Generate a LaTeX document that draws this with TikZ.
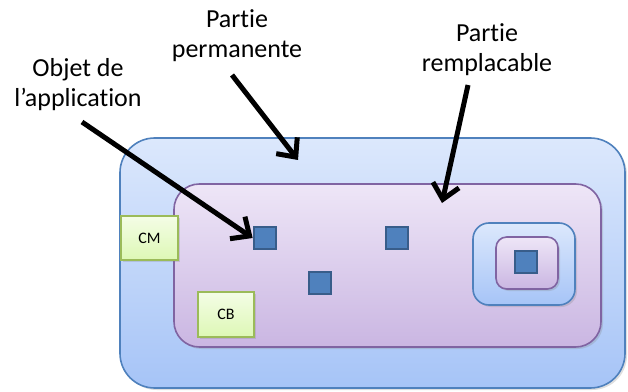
\documentclass[tikz,border=0pt]{standalone}
\usepackage{fontspec}
\setmainfont{Carlito}[Ligatures={NoCommon}]
\usetikzlibrary{arrows.meta,shadows}
\definecolor{blueedge}{HTML}{4F81BD}
\definecolor{bluetop}{HTML}{DCE8FC}
\definecolor{bluebot}{HTML}{A6C4F7}
\definecolor{purpedge}{HTML}{8064A2}
\definecolor{purptop}{HTML}{EEE6F7}
\definecolor{purpbot}{HTML}{CAB6E2}
\definecolor{greenedge}{HTML}{9BBB59}
\definecolor{greentop}{HTML}{F4FDE6}
\definecolor{greenbot}{HTML}{DDF8B5}
\definecolor{sqfill}{HTML}{4F81BD}
\definecolor{sqedge}{HTML}{385D8A}
\tikzset{
  bluebox/.style={draw=blueedge, line width=1.2pt, top color=bluetop, bottom color=bluebot, inner sep=0pt,
    drop shadow={shadow xshift=1.5pt, shadow yshift=-1.5pt, opacity=0.25}},
  purpbox/.style={draw=purpedge, line width=1.2pt, top color=purptop, bottom color=purpbot, inner sep=0pt,
    drop shadow={shadow xshift=1.5pt, shadow yshift=-1.5pt, opacity=0.25}},
  greenbox/.style={draw=greenedge, line width=1.5pt, top color=greentop, bottom color=greenbot, inner sep=0pt,
    font=\fontsize{12}{14}\selectfont,
    drop shadow={shadow xshift=1.5pt, shadow yshift=-1.5pt, opacity=0.25}},
  sq/.style={draw=sqedge, line width=1.5pt, fill=sqfill, minimum width=17pt, minimum height=17pt, inner sep=0pt},
  lbl/.style={align=center, font=\fontsize{19.5}{22.5}\selectfont},
  pointer/.style={line width=3.75pt, -{Straight Barb[length=11pt,width=20pt]}}
}
\begin{document}
\begin{tikzpicture}[x=0.75pt,y=-0.75pt]
\useasboundingbox (0,0) rectangle (628,392);
% outer permanent part
\node[bluebox, rounded corners=26pt, minimum width=505*0.75pt, minimum height=250*0.75pt] (perm) at (372.5,263) {};
% replaceable part
\node[purpbox, rounded corners=19pt, minimum width=427*0.75pt, minimum height=163*0.75pt] (repl) at (387.5,265.5) {};
% CM and CB
\node[greenbox, minimum width=57*0.75pt, minimum height=44*0.75pt] (cm) at (149.5,238) {CM};
\node[greenbox, minimum width=56*0.75pt, minimum height=45*0.75pt] (cb) at (226,314.5) {CB};
% objects
\node[sq] (o1) at (265,238) {};
\node[sq] (o2) at (397,238) {};
\node[sq] (o3) at (320,283) {};
% nested
\node[bluebox, rounded corners=12pt, minimum width=102*0.75pt, minimum height=82*0.75pt] (nb) at (524,264) {};
\node[purpbox, rounded corners=8pt, minimum width=62*0.75pt, minimum height=52*0.75pt] (np) at (527,263) {};
\node[sq] (o4) at (526,262) {};
% labels
\node[lbl] (lobj) at (78,85) {Objet de\\l’application};
\node[lbl] (lperm) at (237,36) {Partie\\permanente};
\node[lbl] (lrepl) at (487,50) {Partie\\remplacable};
% arrow anchors
\coordinate (t1) at (82,122);
\coordinate (t2) at (232,75);
\coordinate (t3) at (468,85);
\coordinate (h2) at (298,160);
\coordinate (h3) at (442,203);
\draw[pointer] (t1) -- (o1.west);
\draw[pointer] (t2) -- (h2);
\draw[pointer] (t3) -- (h3);
\end{tikzpicture}
\end{document}
